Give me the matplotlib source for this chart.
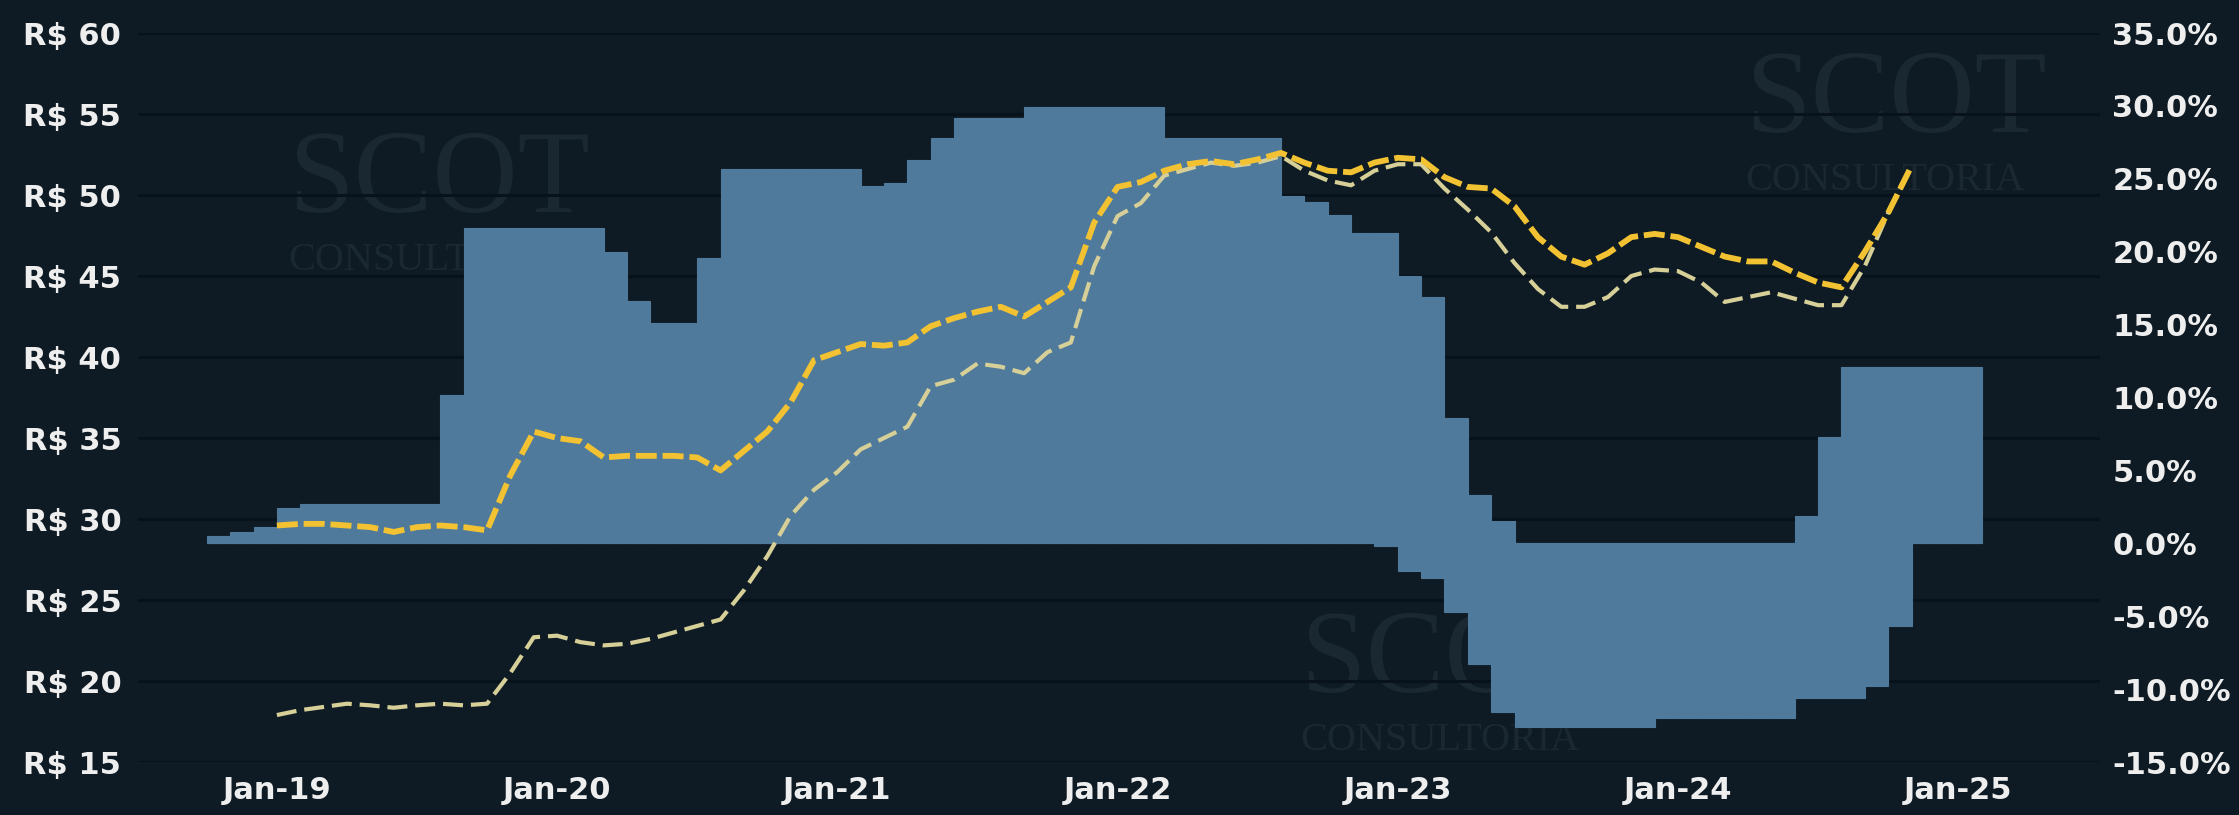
import matplotlib.pyplot as plt

# month index: 0 = Jan-19, bars start at Oct-18 (-3)
bar_months = list(range(-3, 73))
# upper edge of the blue steps (% right axis)
bar_pos = [0.5, 0.8, 1.1, 2.4, 2.7, 2.7, 2.7, 2.7, 2.7, 2.7,
           10.2, 21.6, 21.6, 21.6, 21.6, 21.6, 21.6, 20.0, 16.6, 15.1,
           15.1, 19.6, 25.7, 25.7, 25.7, 25.7, 25.7, 25.7, 24.5, 24.7,
           26.3, 27.8, 29.2, 29.2, 29.2, 29.9, 29.9, 29.9, 29.9, 29.9,
           29.9, 27.8, 27.8, 27.8, 27.8, 27.8, 23.8, 23.4, 22.5, 21.3,
           21.3, 18.3, 16.9, 8.6, 3.3, 1.5, 0.0, 0.0, 0.0, 0.0,
           0.0, 0.0, 0.0, 0.0, 0.0, 0.0, 0.0, 0.0, 1.9, 7.3,
           12.1, 12.1, 12.1, 12.1, 12.1, 12.1]
# lower edge of the blue steps (% right axis)
bar_neg = [0.0, 0.0, 0.0, 0.0, 0.0, 0.0, 0.0, 0.0, 0.0, 0.0,
           0.0, 0.0, 0.0, 0.0, 0.0, 0.0, 0.0, 0.0, 0.0, 0.0,
           0.0, 0.0, 0.0, 0.0, 0.0, 0.0, 0.0, 0.0, 0.0, 0.0,
           0.0, 0.0, 0.0, 0.0, 0.0, 0.0, 0.0, 0.0, 0.0, 0.0,
           0.0, 0.0, 0.0, 0.0, 0.0, 0.0, 0.0, 0.0, 0.0, 0.0,
           -0.2, -1.9, -2.4, -4.7, -8.3, -11.6, -12.6, -12.6, -12.6, -12.6,
           -12.6, -12.6, -12.0, -12.0, -12.0, -12.0, -12.0, -12.0, -10.6, -10.6,
           -10.6, -9.8, -5.7, 0.0, 0.0, 0.0]

line_months = list(range(0, 71))
price_upper = [29.6, 29.7, 29.7, 29.6, 29.5, 29.2, 29.5, 29.6, 29.5, 29.3,
               32.7, 35.4, 35.0, 34.8, 33.8, 33.9, 33.9, 33.9, 33.8, 33.0,
               34.2, 35.4, 37.2, 39.8, 40.3, 40.8, 40.7, 40.9, 41.9, 42.4,
               42.8, 43.1, 42.5, 43.4, 44.3, 48.3, 50.5, 50.8, 51.5, 51.9,
               52.1, 51.9, 52.2, 52.6, 52.0, 51.5, 51.4, 52.0, 52.3, 52.2,
               51.1, 50.5, 50.4, 49.3, 47.4, 46.2, 45.7, 46.4, 47.4, 47.6,
               47.4, 46.8, 46.2, 45.9, 45.9, 45.2, 44.6, 44.3, 46.5, 48.9,
               51.8]
price_lower = [17.9, 18.2, 18.4, 18.6, 18.5, 18.35, 18.5, 18.6, 18.5, 18.6,
               20.5, 22.7, 22.8, 22.4, 22.2, 22.3, 22.6, 23.0, 23.4, 23.8,
               25.6, 27.7, 30.2, 31.8, 32.9, 34.3, 35.0, 35.7, 38.2, 38.6,
               39.6, 39.4, 39.0, 40.3, 40.9, 45.6, 48.7, 49.5, 51.2, 51.6,
               52.0, 51.8, 52.0, 52.4, 51.5, 50.9, 50.6, 51.5, 51.9, 51.9,
               50.4, 49.1, 47.7, 45.8, 44.2, 43.1, 43.1, 43.7, 45.0, 45.4,
               45.3, 44.6, 43.4, 43.7, 44.0, 43.6, 43.2, 43.2, 45.6, 48.9,
               51.7]

tick_months = [0, 12, 24, 36, 48, 60, 72]
tick_labels = ['Jan-19', 'Jan-20', 'Jan-21', 'Jan-22', 'Jan-23', 'Jan-24', 'Jan-25']
left_ticks = [15, 20, 25, 30, 35, 40, 45, 50, 55, 60]
right_ticks = [-15, -10, -5, 0, 5, 10, 15, 20, 25, 30, 35]

bg = '#0e1b24'
blue = '#4f7a9b'
text_col = '#eeeeee'

plt.rcParams['font.family'] = ['DejaVu Sans']
plt.rcParams['font.weight'] = 'bold'

fig = plt.figure(figsize=(22.39, 8.15), dpi=100, facecolor=bg)
ax = fig.add_axes([0.0616, 0.065, 0.8763, 0.8945])
ax.set_facecolor(bg)
ax_bar = ax.twinx()
ax_line = ax.twinx()

# gridlines and left labels
ax.set_xlim(-5.95, 78.07)
ax.set_ylim(15, 60)
ax.set_yticks(left_ticks)
ax.set_yticklabels(['R$ %d' % v for v in left_ticks])
ax.set_xticks(tick_months)
ax.set_xticklabels(tick_labels)
ax.grid(axis='y', color='#07121a', lw=2.2)
ax.set_axisbelow(True)
ax.tick_params(axis='y', length=0, labelsize=22, colors=text_col, pad=12)
ax.tick_params(axis='x', length=0, labelsize=22, colors=text_col, pad=10)

# faint watermarks behind the data (pixel positions of the logo text)
wm = '#1a2831'
for (xs, ys) in [(288, 220), (1745, 140), (1300, 700)]:
    ax.text(xs / 2239, 1 - (ys - 8) / 815, 'SCOT', transform=fig.transFigure,
            family='Liberation Serif', fontweight='normal', fontsize=85,
            color=wm, va='baseline', ha='left', zorder=0.4)
    ax.text(xs / 2239, 1 - (ys + 22) / 815, 'CONSULTORIA', transform=fig.transFigure,
            family='Liberation Serif', fontweight='normal', fontsize=29,
            color=wm, va='top', ha='left', zorder=0.4)

# blue step bars on the % axis
ax_bar.bar(bar_months, bar_pos, width=1, align='edge', color=blue, edgecolor=blue, lw=0.8)
ax_bar.bar(bar_months, bar_neg, width=1, align='edge', color=blue, edgecolor=blue, lw=0.8)
ax_bar.set_ylim(-15, 35)
ax_bar.set_yticks(right_ticks)
ax_bar.set_yticklabels(['%.1f%%' % v for v in right_ticks])
ax_bar.tick_params(axis='y', length=0, labelsize=22, colors=text_col, pad=9)

# price lines on the R$ axis
ax_line.plot(line_months, price_lower, color='#d6cf98', lw=3, dashes=(4.8, 1.9))
ax_line.plot(line_months, price_upper, color='#f2c232', lw=4.2, dashes=(3.6, 1.0))
ax_line.set_ylim(15, 60)
ax_line.tick_params(right=False, labelright=False)

for a in (ax, ax_bar, ax_line):
    for s in a.spines.values():
        s.set_visible(False)

plt.savefig('out.png', dpi=100, facecolor=bg)
